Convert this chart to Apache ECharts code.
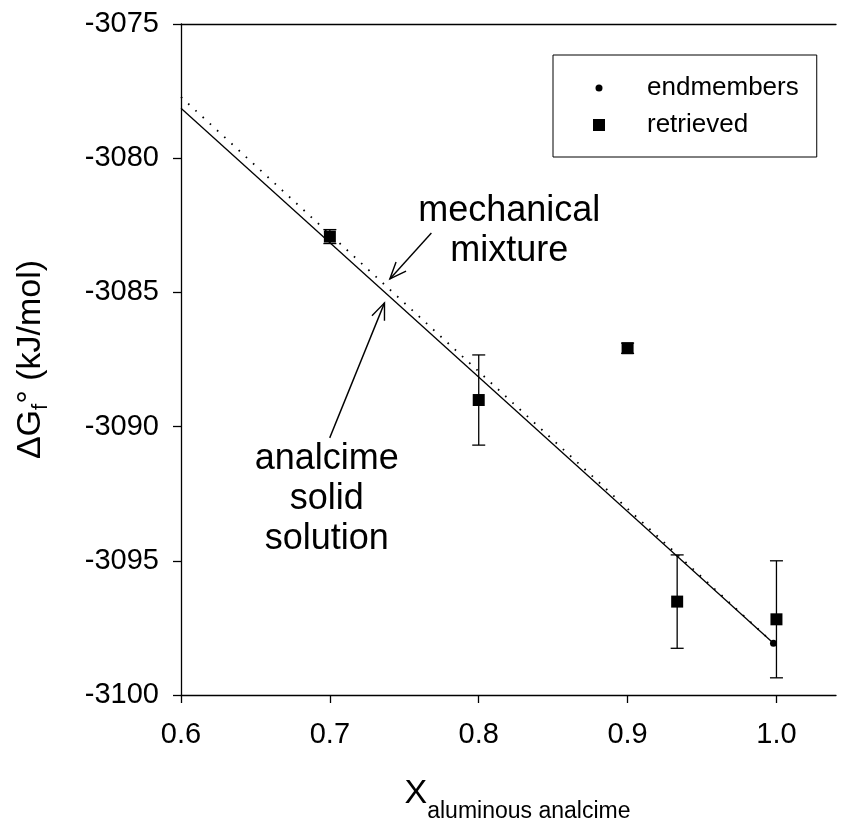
<!DOCTYPE html>
<html><head><meta charset="utf-8">
<script src="https://cdn.jsdelivr.net/npm/echarts@6/dist/echarts.min.js"></script>
<style>html,body{margin:0;padding:0;background:#fff}#c{width:845px;height:823px}</style>
</head><body><div id="c"></div>
<script>
// ---- data ----
const xTicks = [0.6, 0.7, 0.8, 0.9, 1.0];
const yTicks = [-3100, -3095, -3090, -3085, -3080, -3075];
const retrievedX = [0.7, 0.8, 0.9, 0.9333, 1.0];
const retrievedY = [-3082.92, -3089.01, -3087.08, -3096.52, -3097.18];
const retrievedErr = [0.26, 1.68, 0.19, 1.74, 2.18];
const endmemberX = [0.998];
const endmemberY = [-3098.07];
const solidSolutionX = [0.6, 0.998];
const solidSolutionY = [-3078.14, -3098.07];
const mechMixtureX = [0.6, 0.998];
const mechMixtureY = [-3077.72, -3098.07];
// annotation anchors (data coordinates)
const mechArrow = [[0.7682, -3082.79], [0.7403, -3084.50]];
const solArrow = [[0.6999, -3090.42], [0.7367, -3085.39]];
const mechLabelAt = [0.8205, -3082.73];
const solLabelAt = [0.6979, -3092.69];

const FONT = '"Liberation Sans", Arial, Helvetica, sans-serif';
const zip = (a, b) => a.map((v, i) => [v, b[i]]);

const chart = echarts.init(document.getElementById('c'), null, {renderer: 'canvas'});
const axisLineStyle = {color: '#000', width: 1.3};

const option = {
  animation: false,
  backgroundColor: '#fff',
  grid: {left: 181, right: 9, top: 24, bottom: 128, containLabel: false, outerBoundsMode: 'none'},
  legend: {
    orient: 'vertical', left: 553, top: 55,
    padding: [20, 18, 19, 40],
    itemWidth: 49, itemHeight: 14, itemGap: 11,
    borderColor: '#000', borderWidth: 1,
    selectedMode: false,
    textStyle: {fontSize: 26, color: '#000', fontFamily: FONT},
    itemStyle: {opacity: 1},
    data: [
      {name: 'endmembers', icon: 'path://M0,0M49,14M2.5,7A3.5,3.5,0,1,1,9.5,7A3.5,3.5,0,1,1,2.5,7Z'},
      {name: 'retrieved', icon: 'path://M0,0M49,14M0,1L12,1L12,13L0,13Z'}
    ]
  },
  xAxis: [{
    type: 'value', min: 0.6, max: 1.04, interval: 0.1,
    axisLine: {lineStyle: axisLineStyle},
    axisTick: {customValues: xTicks, length: 8, lineStyle: axisLineStyle},
    axisLabel: {customValues: xTicks, formatter: v => v.toFixed(1), fontSize: 29, margin: 25, color: '#000', fontFamily: FONT},
    splitLine: {show: false},
    name: '{a|X}{s|aluminous analcime}',
    nameLocation: 'middle', nameGap: 82,
    nameTextStyle: {
      fontFamily: FONT, color: '#000', padding: [0, 0, 0, 18],
      rich: {
        a: {fontSize: 34, lineHeight: 34, fontFamily: FONT, color: '#000'},
        s: {fontSize: 23, lineHeight: 23, padding: [36, 0, 0, 0], fontFamily: FONT, color: '#000'}
      }
    }
  }, {
    type: 'value', position: 'top', min: 0.6, max: 1.04,
    axisLine: {show: true, lineStyle: axisLineStyle},
    axisTick: {show: false}, axisLabel: {show: false}, splitLine: {show: false}
  }],
  yAxis: {
    type: 'value', min: -3100, max: -3075, interval: 5,
    axisLine: {show: true, lineStyle: axisLineStyle},
    axisTick: {show: true, length: 8, lineStyle: axisLineStyle},
    axisLabel: {fontSize: 29, margin: 22, color: '#000', fontFamily: FONT, formatter: v => String(v)},
    splitLine: {show: false},
    name: '{a|ΔG}{s|f}{a|° (kJ/mol)}',
    nameLocation: 'middle', nameGap: 133,
    nameTextStyle: {
      fontFamily: FONT, color: '#000',
      rich: {
        a: {fontSize: 34, lineHeight: 34, fontFamily: FONT, color: '#000'},
        s: {fontSize: 22, lineHeight: 22, padding: [20, 0, 0, 0], fontFamily: FONT, color: '#000'}
      }
    }
  },
  series: [
    {
      name: 'solid solution', type: 'line', data: zip(solidSolutionX, solidSolutionY),
      symbol: 'none', silent: true, z: 2,
      lineStyle: {color: '#000', width: 1.3}
    },
    {
      name: 'mechanical mixture', type: 'line', data: zip(mechMixtureX, mechMixtureY),
      symbol: 'none', silent: true, z: 2,
      lineStyle: {color: '#000', width: 1.8, type: [1.6, 8.2]}
    },
    {
      name: 'errors', type: 'custom', z: 3, silent: true,
      data: retrievedX.map((x, i) => [x, retrievedY[i], retrievedErr[i]]),
      encode: {x: 0, y: 1},
      renderItem: function (params, api) {
        const x = api.value(0), y = api.value(1), e = api.value(2);
        const t = api.coord([x, y + e]), b = api.coord([x, y - e]);
        const hw = 6.5;
        const st = {stroke: '#000', lineWidth: 1.3};
        return {type: 'group', children: [
          {type: 'line', shape: {x1: t[0], y1: t[1], x2: b[0], y2: b[1]}, style: st},
          {type: 'line', shape: {x1: t[0] - hw, y1: t[1], x2: t[0] + hw, y2: t[1]}, style: st},
          {type: 'line', shape: {x1: b[0] - hw, y1: b[1], x2: b[0] + hw, y2: b[1]}, style: st}
        ]};
      }
    },
    {
      name: 'retrieved', type: 'scatter', data: zip(retrievedX, retrievedY),
      symbol: 'rect', symbolSize: 12, z: 4,
      itemStyle: {color: '#000', opacity: 1}
    },
    {
      name: 'endmembers', type: 'scatter', data: zip(endmemberX, endmemberY),
      symbol: 'circle', symbolSize: 7, z: 4,
      itemStyle: {color: '#000', opacity: 1}
    }
  ]
};
chart.setOption(option);

function px(p) { return chart.convertToPixel({xAxisIndex: 0, yAxisIndex: 0}, p); }
function arrow(a) {
  const p0 = px(a[0]), p1 = px(a[1]);
  const ang = Math.atan2(p0[1] - p1[1], p0[0] - p1[0]);
  const L = 18, da = 22 * Math.PI / 180;
  const w1 = [p1[0] + L * Math.cos(ang + da), p1[1] + L * Math.sin(ang + da)];
  const w2 = [p1[0] + L * Math.cos(ang - da), p1[1] + L * Math.sin(ang - da)];
  const st = {stroke: '#000', lineWidth: 1.4, fill: null};
  return [
    {type: 'line', shape: {x1: p0[0], y1: p0[1], x2: p1[0], y2: p1[1]}, style: st, z: 10},
    {type: 'polyline', shape: {points: [w1, p1, w2]}, style: st, z: 10}
  ];
}
const mp = px(mechLabelAt), sp = px(solLabelAt);
const txt = (p, s) => ({
  type: 'text', x: p[0], y: p[1], z: 10,
  style: {text: s, fontSize: 36, fontFamily: FONT, fill: '#000', align: 'center', verticalAlign: 'middle', lineHeight: 40}
});
chart.setOption({graphic: [].concat(
  arrow(mechArrow), arrow(solArrow),
  [txt(mp, 'mechanical\nmixture'), txt(sp, 'analcime\nsolid\nsolution')]
)});
</script>
</body></html>
